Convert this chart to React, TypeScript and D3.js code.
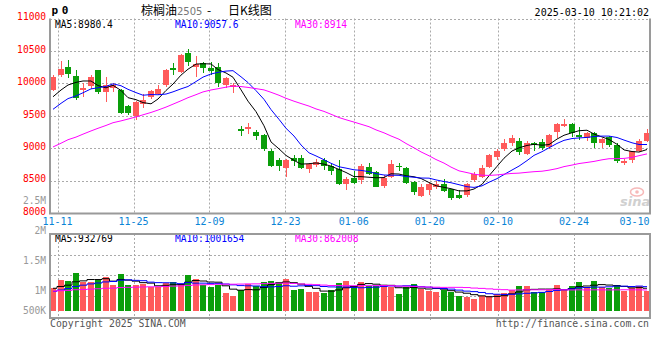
import React from "react";
import * as d3 from "d3";

// ---------- data ----------
const dates = [
  "11-08","11-11","11-12","11-13","11-14","11-15","11-18","11-19","11-20","11-21",
  "11-22","11-25","11-26","11-27","11-28","11-29","12-02","12-03","12-04","12-05",
  "12-06","12-09","12-10","12-11","12-12","12-13","12-16","12-17","12-18","12-19",
  "12-20","12-23","12-24","12-25","12-26","12-27","12-30","12-31","01-02","01-03",
  "01-06","01-07","01-08","01-09","01-10","01-13","01-14","01-15","01-16","01-17",
  "01-20","01-21","01-22","01-23","01-24","01-27","02-05","02-06","02-07","02-10",
  "02-11","02-12","02-13","02-14","02-17","02-18","02-19","02-20","02-21","02-24",
  "02-25","02-26","02-27","02-28","03-03","03-04","03-05","03-06","03-07","03-10",
];

const opens = [
  9900,10130,10255,10115,9895,9960,10200,9860,9925,9890,
  9650,9500,9680,9785,9835,9975,10235,10170,10465,10255,
  10320,10235,10245,9975,9940,9290,9300,9250,9200,8960,
  8815,8700,8845,8845,8680,8745,8815,8725,8675,8445,
  8540,8510,8705,8640,8415,8560,8730,8700,8480,8265,
  8355,8405,8445,8365,8285,8275,8510,8560,8705,8860,
  8980,9085,9110,8910,9075,9095,9020,9250,9340,9370,
  9200,9155,9240,9085,9165,9045,8765,8825,8960,9115,
];

const highs = [
  10130,10345,10360,10200,10000,10135,10205,10100,10010,9910,
  9665,9730,9835,9900,9970,10225,10320,10455,10530,10420,
  10335,10335,10310,10100,10010,9340,9390,9280,9215,8980,
  8845,8830,8895,8890,8765,8830,8845,8775,8825,8560,
  8650,8755,8765,8650,8585,8815,8775,8715,8495,8440,
  8480,8495,8520,8375,8355,8460,8635,8740,8910,8990,
  9135,9200,9150,9110,9095,9135,9215,9390,9445,9390,
  9320,9250,9250,9160,9185,9075,8840,8960,9135,9290,
];

const lows = [
  9885,10105,10080,9745,9785,9910,9835,9715,9860,9520,
  9515,9440,9615,9755,9820,9940,10135,10155,10270,10095,
  10160,10130,9950,9925,9855,9190,9220,9125,8960,8710,
  8650,8560,8725,8675,8620,8715,8660,8585,8425,8355,
  8455,8445,8585,8395,8380,8535,8650,8455,8275,8245,
  8275,8370,8325,8200,8220,8245,8480,8535,8690,8825,
  8960,9030,8895,8895,8960,8970,8990,9150,9320,9175,
  9125,9115,9010,9010,9020,8765,8735,8765,8940,9095,
];

const closes = [
  10100,10220,10150,9775,9935,10100,9870,9970,9975,9535,
  9545,9715,9745,9880,9905,10205,10210,10435,10335,10300,
  10230,10195,10000,10075,9970,9260,9320,9190,8985,8725,
  8725,8815,8805,8700,8755,8785,8725,8650,8445,8520,
  8465,8725,8600,8405,8540,8755,8705,8465,8330,8405,
  8445,8455,8345,8225,8235,8445,8600,8700,8890,8960,
  9075,9155,8945,9075,9045,9010,9200,9370,9370,9240,
  9165,9240,9075,9145,9045,8795,8805,8950,9105,9240,
];

const volumes = [
  928000,1268000,1227000,1566000,1174000,1198000,1268000,1403000,1063000,1513000,
  1063000,1063000,1092000,969000,969000,1157000,1186000,1104000,1472000,1309000,
  1063000,982000,1063000,736000,626000,850000,1104000,1023000,1198000,1227000,
  1186000,1309000,871000,900000,777000,777000,748000,859000,1145000,1227000,
  1023000,1186000,1023000,1023000,1023000,994000,695000,982000,1104000,900000,
  818000,789000,859000,789000,613000,585000,491000,626000,601000,683000,
  736000,859000,1023000,1023000,789000,789000,859000,1063000,859000,1023000,
  1186000,982000,1227000,982000,928000,1063000,830000,935000,1030000,800000,
];

// days before the first visible day, estimated from where the MA lines start
const priorCloses = [
  8480,8530,8560,8580,8620,8640,8660,8700,8690,8710,
  8730,8760,8790,8800,8830,8850,8870,8900,8910,8950,
  9300,9420,9360,9450,9500,9700,9765,9570,9830,
];
const priorVolumes = [
  780000,820000,760000,850000,800000,790000,830000,870000,810000,840000,
  860000,800000,780000,850000,820000,790000,880000,830000,810000,830000,
  700000,640000,690000,660000,680000,900000,960000,880000,980000,
];

const priceTicks = [11000, 10500, 10000, 9500, 9000, 8500, 8000];
const dateTicks = ["11-11", "11-25", "12-09", "12-23", "01-06", "01-20", "02-10", "02-24", "03-10"];
const volTicks = [2500000, 2000000, 1500000, 1000000, 500000];
const volTickText = ["2.5M", "2M", "1.5M", "1M", "500K"];
const maPeriods = [5, 10, 30];
const maColors = ["#000000", "#0000ff", "#ff00ff"];
const priceMaText = ["MA5:8980.4", "MA10:9057.6", "MA30:8914"];
const volMaText = ["MA5:932769", "MA10:1001654", "MA30:862008"];

const RED = "#ff5a5a";
const GREEN = "#0a9e0a";
const GRID = "#aaaaaa";
const BORDER = "#9a9a9a";
const MONO = "'DejaVu Sans Mono', monospace";

function movingAvg(vals: number[], prior: number[], p: number): number[] {
  const all = prior.concat(vals);
  return vals.map((_, i) => {
    const j = i + prior.length;
    return d3.mean(all.slice(j - p + 1, j + 1)) as number;
  });
}

export default function App() {
  const W = 660, H = 360;
  const L = 50, R = 650;
  const pTop = 18.5, pBot = 213;
  const vTop = 234, vBot = 318, vBase = 311;
  const n = dates.length;

  const x = d3.scaleBand<number>().domain(d3.range(n)).range([L, R]).paddingInner(0.2);
  const xg = d3.scaleLinear().domain([0, n - 1]).range([L, R]);
  const y = d3.scaleLinear().domain([8000, 11000]).range([pBot, pTop]);
  const yv = d3.scaleLinear().domain([0, 1e6]).range([vBase, vBase - 24.45]);
  const yvLabel = d3.scaleLinear().domain([1e6, 2.5e6]).range([294.3, 204.3]);
  const vGrid = d3.scaleLinear().domain([0, 4]).range([vTop, 316]);

  const bw = Math.round(x.bandwidth());
  const left = (i: number) => Math.round(x(i) as number);
  const cx = (i: number) => left(i) + bw / 2;

  const priceMAs = maPeriods.map((p) => movingAvg(closes, priorCloses, p));
  const volMAs = maPeriods.map((p) => movingAvg(volumes, priorVolumes, p));

  const priceLine = d3.line<number>().x((_, i) => cx(i)).y((v) => y(v));
  const volLine = d3.line<number>().x((_, i) => cx(i)).y((v) => yv(v)).curve(d3.curveStep);

  const gridXs = dateTicks.map((d) => dates.indexOf(d));

  return (
    <svg width={W} height={H} style={{ position: "absolute", left: 0, top: 0, background: "#fff" }}>
      <defs>
        <clipPath id="pclip">
          <rect x={L} y={pTop} width={R - L} height={pBot - pTop} />
        </clipPath>
        <clipPath id="vclip">
          <rect x={L} y={vTop} width={R - L} height={vBot - vTop} />
        </clipPath>
      </defs>

      {/* header */}
      <text x={51.5} y={14} fontFamily={MONO} fontWeight="bold" fontSize={11} letterSpacing={3.7} fill="#000">p0</text>
      <text y={14.5} fontSize={12} fontFamily="'Noto Sans CJK SC', sans-serif" fill="#000">
        <tspan x={141}>棕榈油</tspan>
        <tspan x={177} fill="#777" fontFamily="'DejaVu Sans', sans-serif" fontSize={10}>2505</tspan>
        <tspan x={207}>-</tspan>
        <tspan x={228}>日K线图</tspan>
      </text>
      <text x={649} y={15.5} textAnchor="end" fontFamily={MONO} fontSize={10} fill="#000">2025-03-10 10:21:02</text>

      {/* price grid */}
      {priceTicks.slice(0, -1).map((t) => (
        <line key={t} x1={L} x2={R} y1={Math.round(y(t)) + 0.5} y2={Math.round(y(t)) + 0.5}
          stroke={GRID} strokeDasharray="2,2" />
      ))}
      {gridXs.slice(0, -1).map((gi) => (
        <line key={gi} x1={Math.round(xg(gi)) + 0.5} x2={Math.round(xg(gi)) + 0.5} y1={pTop} y2={pBot}
          stroke={GRID} strokeDasharray="2,2" />
      ))}

      {/* price labels */}
      {priceTicks.map((t) => (
        <text key={t} x={46} y={y(t) + 1.8} textAnchor="end" fontFamily={MONO} fontSize={9.6} fill="#ff0000">{t}</text>
      ))}

      {/* candles */}
      <g>
        {closes.map((c, i) => {
          const o = opens[i];
          const up = c >= o;
          const col = up ? RED : GREEN;
          const yTop = Math.round(y(Math.max(o, c)));
          const yB = Math.round(y(Math.min(o, c)));
          const yh = Math.round(y(highs[i]));
          const yl = Math.round(y(lows[i]));
          return (
            <g key={i} fill={col}>
              <rect x={left(i) + 3} y={yh} width={1} height={Math.max(1, yl - yh)} />
              <rect x={left(i)} y={yTop} width={bw} height={Math.max(1, yB - yTop)} />
            </g>
          );
        })}
      </g>

      {/* price MAs */}
      <g clipPath="url(#pclip)">
        {priceMAs.map((m, k) => (
          <path key={k} d={priceLine(m) || ""} fill="none" stroke={maColors[k]} strokeWidth={1} />
        ))}
      </g>

      {/* MA labels */}
      {priceMaText.map((t, k) => (
        <text key={t} x={55 + 120 * k} y={27.5} fontFamily={MONO} fontSize={9.6} fill={maColors[k]}>{t}</text>
      ))}

      {/* sina watermark */}
      <g opacity={0.55}>
        <ellipse cx={637} cy={192} rx={6.5} ry={4} fill="none" stroke="#f08080" strokeWidth={1.5} />
        <circle cx={637} cy={192} r={1.8} fill="#f08080" />
        <text x={620} y={206} fontFamily="'DejaVu Sans', sans-serif" fontStyle="italic" fontWeight="bold" fontSize={13} fill="#aaaaaa">sina</text>
      </g>

      {/* price frame */}
      <line x1={L} x2={L} y1={pTop} y2={pBot + 1} stroke={BORDER} strokeWidth={2} />
      <line x1={R} x2={R} y1={pTop} y2={pBot + 1} stroke={BORDER} strokeWidth={2} />
      <line x1={L - 1} x2={R + 1} y1={pBot + 0.5} y2={pBot + 0.5} stroke={BORDER} strokeWidth={2} />

      {/* date labels */}
      {dateTicks.map((d, k) => {
        const last = k === dateTicks.length - 1;
        return (
          <text key={d} x={last ? R - 0.5 : xg(gridXs[k])} y={225} textAnchor={last ? "end" : "middle"}
            fontFamily={MONO} fontSize={10} fill="#0a84d6">{d}</text>
        );
      })}

      {/* volume axis labels */}
      {volTicks.map((v, k) => (
        <text key={v} x={46} y={Math.min(yvLabel(v), vBase + 3.3)} textAnchor="end" fontFamily={MONO}
          fontSize={9.6} fill="#999999">{volTickText[k]}</text>
      ))}

      {/* volume grid */}
      {[1, 2, 3].map((k) => (
        <line key={k} x1={L} x2={R} y1={Math.round(vGrid(k)) + 0.5} y2={Math.round(vGrid(k)) + 0.5}
          stroke={GRID} strokeDasharray="2,2" />
      ))}
      {gridXs.slice(0, -1).map((gi) => (
        <line key={gi} x1={Math.round(xg(gi)) + 0.5} x2={Math.round(xg(gi)) + 0.5} y1={vTop} y2={321}
          stroke={GRID} strokeDasharray="2,2" />
      ))}

      {/* volume bars */}
      <g>
        {volumes.map((v, i) => {
          const up = closes[i] >= opens[i];
          const top = Math.round(yv(v));
          return <rect key={i} x={left(i)} y={top} width={bw} height={vBase - top} fill={up ? RED : GREEN} />;
        })}
      </g>

      {/* volume MAs */}
      <g clipPath="url(#vclip)">
        {volMAs.map((m, k) => (
          <path key={k} d={volLine(m) || ""} fill="none" stroke={maColors[k]} strokeWidth={1} />
        ))}
      </g>
      {volMaText.map((t, k) => (
        <text key={t} x={55 + 120 * k} y={242} fontFamily={MONO} fontSize={9.6} fill={maColors[k]}>{t}</text>
      ))}

      {/* volume frame */}
      <line x1={L - 1} x2={R + 1} y1={vTop} y2={vTop} stroke={BORDER} strokeWidth={2} />
      <line x1={L} x2={L} y1={vTop} y2={vBot} stroke={BORDER} strokeWidth={2} />
      <line x1={R} x2={R} y1={vTop} y2={vBot} stroke={BORDER} strokeWidth={2} />
      <line x1={L - 1} x2={R + 1} y1={vBot} y2={vBot} stroke={BORDER} strokeWidth={2} />

      {/* footer */}
      <text x={50} y={326.5} fontFamily={MONO} fontSize={9.8} fill="#555555">Copyright 2025 SINA.COM</text>
      <text x={649} y={326.5} textAnchor="end" fontFamily={MONO} fontSize={9.8} fill="#555555">http://finance.sina.com.cn</text>
    </svg>
  );
}
